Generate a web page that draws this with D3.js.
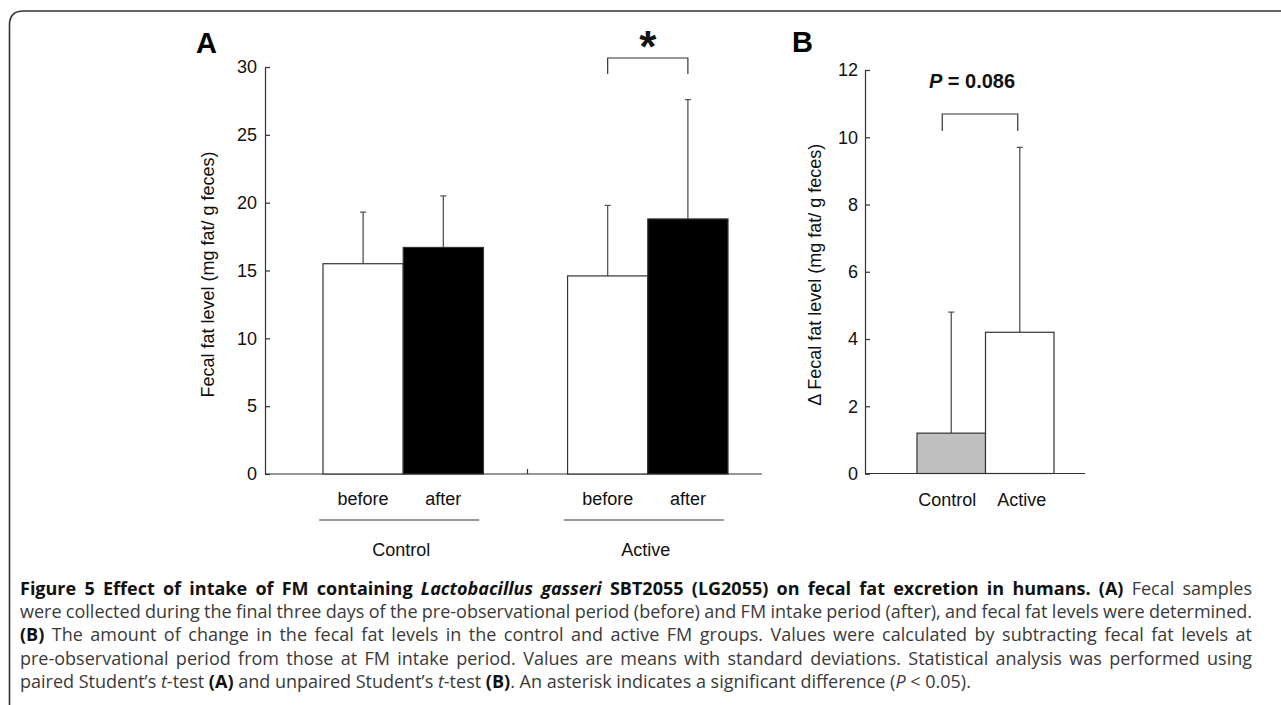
<!DOCTYPE html>
<html>
<head>
<meta charset="utf-8">
<script src="https://cdn.jsdelivr.net/npm/d3@7"></script>
<style>
  body { margin: 0; background: #fff; }
  svg { display: block; }
</style>
</head>
<body>
<svg id="chart" width="1281" height="705"></svg>
<script>
// panel A: fecal fat level before / after
const groupsA = ["Control", "Active"];
const periodsA = ["before", "after"];
const controlMeans = [15.5, 16.7];
const controlSD = [3.8, 3.8];
const activeMeans = [14.6, 18.8];
const activeSD = [5.2, 8.8];
const ticksA = [0, 5, 10, 15, 20, 25, 30];

// panel B: change in fecal fat level
const groupsB = ["Control", "Active"];
const deltaMeans = [1.2, 4.2];
const deltaSD = [3.6, 5.5];
const ticksB = [0, 2, 4, 6, 8, 10, 12];

const font = "'Liberation Sans', Arial, sans-serif";
const capFont = "'Open Sans', 'Noto Sans', sans-serif";
const ink = "#333";

const svg = d3.select("#chart");
svg.append("rect").attr("width", 1281).attr("height", 705).attr("fill", "#fff");

// frame with rounded corner
svg.append("path")
    .attr("d", "M9.5,710 V25 Q9.5,11 23.5,11 H1290")
    .attr("fill", "none")
    .attr("stroke", "#333")
    .attr("stroke-width", 1.6);

function styleAxis(g) {
    g.attr("font-family", font).attr("font-size", 18).attr("color", ink);
    g.selectAll("text").attr("fill", "#111");
    g.selectAll("line, path").attr("stroke-width", 1.2);
}

// ---------- panel A ----------
const yA = d3.scaleLinear().domain([0, 30]).range([474, 67]);
const xA = d3.scaleBand().domain(groupsA).range([323, 728]).paddingInner(0.344);
const xSub = d3.scaleBand().domain(periodsA).range([0, xA.bandwidth()]);
const axisXA = 265;

svg.append("g")
    .attr("transform", `translate(${axisXA},0)`)
    .call(d3.axisLeft(yA).tickValues(ticksA).tickSize(-5).tickPadding(8))
    .call(styleAxis);

// baseline with middle tick
svg.append("line")
    .attr("x1", axisXA).attr("x2", 762)
    .attr("y1", yA(0)).attr("y2", yA(0))
    .attr("stroke", ink).attr("stroke-width", 1.2);
const midA = (xA("Control") + xA.bandwidth() + xA("Active")) / 2 + 2;
svg.append("line")
    .attr("x1", midA).attr("x2", midA)
    .attr("y1", yA(0)).attr("y2", yA(0) - 5)
    .attr("stroke", ink).attr("stroke-width", 1.2);

const barsA = [];
groupsA.forEach((g, gi) => {
    const means = gi === 0 ? controlMeans : activeMeans;
    const sds = gi === 0 ? controlSD : activeSD;
    periodsA.forEach((p, pi) => {
        barsA.push({ group: g, period: p, mean: means[pi], sd: sds[pi] });
    });
});

const gA = svg.append("g");
gA.selectAll(".err")
    .data(barsA)
    .enter()
    .append("path")
    .attr("class", "err")
    .attr("d", d => {
        const cx = xA(d.group) + xSub(d.period) + xSub.bandwidth() / 2;
        const top = yA(d.mean + d.sd);
        return `M${cx},${yA(d.mean)}V${top}M${cx - 3},${top}H${cx + 3}`;
    })
    .attr("fill", "none")
    .attr("stroke", "#555")
    .attr("stroke-width", 1.3);

gA.selectAll(".bar")
    .data(barsA)
    .enter()
    .append("rect")
    .attr("class", "bar")
    .attr("x", d => xA(d.group) + xSub(d.period))
    .attr("y", d => yA(d.mean))
    .attr("width", xSub.bandwidth())
    .attr("height", d => yA(0) - yA(d.mean))
    .attr("fill", d => d.period === "before" ? "#fff" : "#000")
    .attr("stroke", ink)
    .attr("stroke-width", 1.2);

// period labels
gA.selectAll(".plabel")
    .data(barsA)
    .enter()
    .append("text")
    .attr("x", d => xA(d.group) + xSub(d.period) + xSub.bandwidth() / 2)
    .attr("y", 505)
    .attr("text-anchor", "middle")
    .attr("font-family", font)
    .attr("font-size", 18)
    .attr("fill", "#111")
    .text(d => d.period);

// group underline + label
groupsA.forEach(g => {
    const c = xA(g) + xA.bandwidth() / 2 - 4;
    svg.append("line")
        .attr("x1", c - 80).attr("x2", c + 80)
        .attr("y1", 520).attr("y2", 520)
        .attr("stroke", ink).attr("stroke-width", 1.2);
    svg.append("text")
        .attr("x", c + 2).attr("y", 556)
        .attr("text-anchor", "middle")
        .attr("font-family", font).attr("font-size", 18).attr("fill", "#111")
        .text(g);
});

// y title A
svg.append("text")
    .attr("transform", `translate(214,${(yA(0) + yA(30)) / 2 + 4}) rotate(-90)`)
    .attr("text-anchor", "middle")
    .attr("font-family", font).attr("font-size", 18).attr("fill", "#111")
    .text("Fecal fat level (mg fat/ g feces)");

// significance bracket A
const bl = xA("Active") + xSub("before") + xSub.bandwidth() / 2;
const br = xA("Active") + xSub("after") + xSub.bandwidth() / 2;
const bTop = yA(30) - 9;
svg.append("path")
    .attr("d", `M${bl},${bTop + 16}V${bTop}H${br}V${bTop + 16}`)
    .attr("fill", "none").attr("stroke", ink).attr("stroke-width", 1.2);
svg.append("text")
    .attr("x", (bl + br) / 2).attr("y", 62)
    .attr("text-anchor", "middle")
    .attr("font-family", font).attr("font-weight", "bold").attr("font-size", 44)
    .attr("fill", "#111")
    .text("*");

// panel letters
svg.append("text").attr("x", 196).attr("y", 53)
    .attr("font-family", font).attr("font-weight", "bold").attr("font-size", 29)
    .attr("fill", "#000").text("A");
svg.append("text").attr("x", 792).attr("y", 52)
    .attr("font-family", font).attr("font-weight", "bold").attr("font-size", 29)
    .attr("fill", "#000").text("B");

// ---------- panel B ----------
const yB = d3.scaleLinear().domain([0, 12]).range([473.5, 70]);
const xB = d3.scaleBand().domain(groupsB).range([917, 1054]);
const axisXB = 865;

svg.append("g")
    .attr("transform", `translate(${axisXB},0)`)
    .call(d3.axisLeft(yB).tickValues(ticksB).tickSize(-5).tickPadding(7))
    .call(styleAxis);

svg.append("line")
    .attr("x1", axisXB).attr("x2", 1085)
    .attr("y1", yB(0)).attr("y2", yB(0))
    .attr("stroke", ink).attr("stroke-width", 1.2);

const barsB = groupsB.map((g, i) => ({ group: g, mean: deltaMeans[i], sd: deltaSD[i] }));

const gB = svg.append("g");
gB.selectAll(".err")
    .data(barsB)
    .enter()
    .append("path")
    .attr("d", d => {
        const cx = xB(d.group) + xB.bandwidth() / 2;
        const top = yB(d.mean + d.sd);
        return `M${cx},${yB(d.mean)}V${top}M${cx - 3},${top}H${cx + 3}`;
    })
    .attr("fill", "none")
    .attr("stroke", "#555")
    .attr("stroke-width", 1.3);

gB.selectAll(".bar")
    .data(barsB)
    .enter()
    .append("rect")
    .attr("x", d => xB(d.group))
    .attr("y", d => yB(d.mean))
    .attr("width", xB.bandwidth())
    .attr("height", d => yB(0) - yB(d.mean))
    .attr("fill", (d, i) => i === 0 ? "#c0c0c0" : "#fff")
    .attr("stroke", ink)
    .attr("stroke-width", 1.2);

gB.selectAll(".glabel")
    .data(barsB)
    .enter()
    .append("text")
    .attr("x", (d, i) => xB(d.group) + xB.bandwidth() / 2 + (i === 0 ? -4 : 2))
    .attr("y", 506)
    .attr("text-anchor", "middle")
    .attr("font-family", font).attr("font-size", 18).attr("fill", "#111")
    .text(d => d.group);

svg.append("text")
    .attr("transform", `translate(821,${(yB(0) + yB(12)) / 2 + 3}) rotate(-90)`)
    .attr("text-anchor", "middle")
    .attr("font-family", font).attr("font-size", 18).attr("fill", "#111")
    .text("\u0394 Fecal fat level (mg fat/ g feces)");

// bracket B
const cL = xB("Control") + xB.bandwidth() / 2 - 9;
const cR = xB("Active") + xB.bandwidth() / 2 - 2;
svg.append("path")
    .attr("d", `M${cL},${131}V${114}H${cR}V${131}`)
    .attr("fill", "none").attr("stroke", ink).attr("stroke-width", 1.2);
const pText = svg.append("text")
    .attr("x", (cL + cR) / 2 - 8).attr("y", 88)
    .attr("text-anchor", "middle")
    .attr("font-family", font).attr("font-weight", "bold").attr("font-size", 20)
    .attr("fill", "#111");
pText.append("tspan").attr("font-style", "italic").text("P");
pText.append("tspan").text(" = 0.086");

// ---------- caption ----------
const captionLines = [
    [["b", "Figure 5 Effect of intake of FM containing "], ["bi", "Lactobacillus gasseri"],
     ["b", " SBT2055 (LG2055) on fecal fat excretion in humans. (A)"], ["r", " Fecal samples"]],
    [["r", "were collected during the final three days of the pre-observational period (before) and FM intake period (after), and fecal fat levels were determined."]],
    [["b", "(B)"], ["r", " The amount of change in the fecal fat levels in the control and active FM groups. Values were calculated by subtracting fecal fat levels at"]],
    [["r", "pre-observational period from those at FM intake period. Values are means with standard deviations. Statistical analysis was performed using"]],
    [["r", "paired Student\u2019s "], ["i", "t"], ["r", "-test "], ["b", "(A)"], ["r", " and unpaired Student\u2019s "],
     ["i", "t"], ["r", "-test "], ["b", "(B)"], ["r", ". An asterisk indicates a significant difference ("],
     ["i", "P"], ["r", " < 0.05)."]]
];
const capX = 20, capRight = 1252;
captionLines.forEach((line, li) => {
    const t = svg.append("text")
        .attr("x", capX).attr("y", 595 + li * 23.2)
        .attr("font-family", capFont).attr("font-size", 18)
        .attr("fill", "#3a3a3a");
    line.forEach(([s, str]) => {
        const sp = t.append("tspan").text(str);
        if (s === "b" || s === "bi") sp.attr("font-weight", "bold").attr("fill", "#111");
        if (s === "i" || s === "bi") sp.attr("font-style", "italic");
    });
    if (li < captionLines.length - 1) {
        const natural = t.node().getComputedTextLength();
        const spaces = line.map(d => d[1]).join("").split(" ").length - 1;
        t.attr("word-spacing", (capRight - capX - natural) / spaces);
    }
});
</script>
</body>
</html>
